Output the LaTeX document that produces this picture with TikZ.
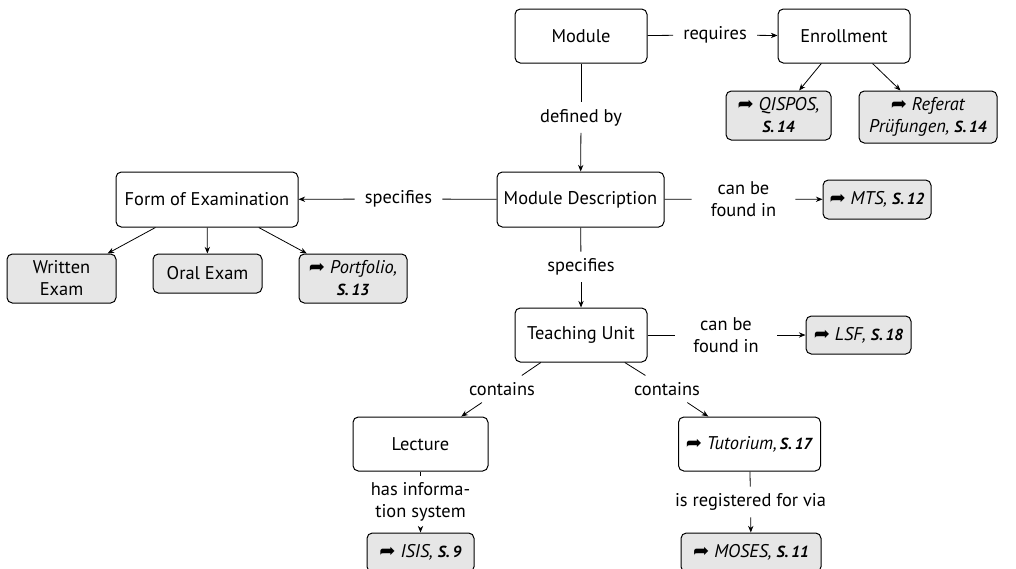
\documentclass[tikz,border=0pt]{standalone}
\usepackage{fontspec}
\setmainfont{PT Sans}
\newfontfamily\symfont{DejaVu Sans}
\usetikzlibrary{arrows.meta}
\newcommand\arr{{\symfont\fontsize{14.5}{14}\selectfont ➦}}
\newcommand\pg[1]{\textbf{\textit{\fontsize{12}{14}\selectfont S.\,#1}}}
\definecolor{boxgray}{HTML}{E6E6E6}
\tikzset{
  box/.style={draw=black, line width=0.75pt, rounded corners=4pt, fill=white, align=center, inner sep=0pt},
  gbox/.style={box, fill=boxgray},
  lbl/.style={inner xsep=7.5pt, inner ysep=5pt, align=center},
  con/.style={line width=0.6pt},
  arw/.style={con, -{Stealth[length=5pt,width=4pt]}}
}
\begin{document}
\begin{tikzpicture}[x=0.75pt, y=-0.75pt, font=\fontsize{13.8}{16.5}\selectfont]
\useasboundingbox (0,0) rectangle (1016,568);
% nodes
\node[box, minimum width=99pt, minimum height=40.5pt] (mod) at (581,36) {Module};
\node[box, minimum width=99pt, minimum height=40.5pt] (enr) at (844,36) {Enrollment};
\node[gbox, minimum width=78.75pt, minimum height=36.75pt] (qis) at (778.5,115.5) {\arr\ \textit{QISPOS,}\\ \pg{14}};
\node[gbox, minimum width=103.5pt, minimum height=39pt] (ref) at (928,117) {\arr\ \textit{Referat}\\ \textit{Prüfungen,} \pg{14}};
\node[box, minimum width=125.25pt, minimum height=41.25pt] (md) at (580.5,199.5) {Module Description};
\node[gbox, minimum width=81pt, minimum height=29.25pt] (mts) at (877,199.5) {\arr\ \textit{MTS,} \pg{12}};
\node[box, minimum width=136.5pt, minimum height=41.25pt] (foe) at (207,199.5) {Form of Examination};
\node[gbox, minimum width=81.75pt, minimum height=36.75pt] (wri) at (61.5,278.5) {Written\\ Exam};
\node[gbox, minimum width=81.75pt, minimum height=29.25pt] (ora) at (207.5,273.5) {Oral Exam};
\node[gbox, minimum width=81pt, minimum height=36.75pt] (por) at (353,278.5) {\arr\ \textit{Portfolio,}\\ \pg{13}};
\node[box, minimum width=99pt, minimum height=40.5pt] (tu) at (581,335) {Teaching Unit};
\node[gbox, minimum width=78.75pt, minimum height=28.5pt] (lsf) at (858.5,335) {\arr\ \textit{LSF,} \pg{18}};
\node[box, minimum width=101.25pt, minimum height=40.5pt] (lec) at (420.5,444) {Lecture};
\node[box, minimum width=106.5pt, minimum height=40.5pt] (tut) at (749.5,444) {\arr\ \textit{Tutorium,}\,\pg{17}};
\node[gbox, minimum width=80.25pt, minimum height=29.25pt] (isis) at (420.5,552.5) {\arr\ \textit{ISIS,} \pg{9}};
\node[gbox, minimum width=105pt, minimum height=29.25pt] (mos) at (751,552.5) {\arr\ \textit{MOSES,} \pg{11}};
% labels
\node[lbl] (lreq) at (715,35) {requires};
\node[lbl] (ldef) at (581,117.5) {defined by};
\node[lbl] (lspa) at (398.5,199) {specifies};
\node[lbl, minimum width=77.25pt] (lcana) at (743.5,199) {can be\\ found in};
\node[lbl] (lspb) at (581,267) {specifies};
\node[lbl, minimum width=76.5pt] (lcanb) at (726,335) {can be\\ found in};
\node[lbl] (lcona) at (502,389) {contains};
\node[lbl] (lconb) at (667,389) {contains};
\node[lbl] (lhas) at (420.5,502) {has informa-\\ tion system};
\node[lbl] (lreg) at (750.5,502) {is registered for via};
% connectors
\draw[con] (mod) -- (lreq); \draw[arw] (lreq) -- (enr);
\draw[arw] (enr) -- (qis);
\draw[arw] (enr) -- (ref);
\draw[con] (mod) -- (ldef); \draw[arw] (ldef) -- (md);
\draw[con] (md) -- (lspa); \draw[arw] (lspa) -- (foe);
\draw[con] (md) -- (lcana); \draw[arw] (lcana) -- (mts);
\draw[arw] (foe) -- (wri);
\draw[arw] (foe) -- (ora);
\draw[arw] (foe) -- (por);
\draw[con] (md) -- (lspb); \draw[arw] (lspb) -- (tu);
\draw[con] (tu) -- (lcanb); \draw[arw] (lcanb) -- (lsf);
\draw[con] (tu) -- (lcona); \draw[arw] (lcona) -- (lec);
\draw[con] (tu) -- (lconb); \draw[arw] (lconb) -- (tut);
\draw[con] (lec) -- (lhas); \draw[arw] (lhas) -- (isis);
\draw[con] (tut) -- (lreg); \draw[arw] (lreg) -- (mos);
\end{tikzpicture}
\end{document}
